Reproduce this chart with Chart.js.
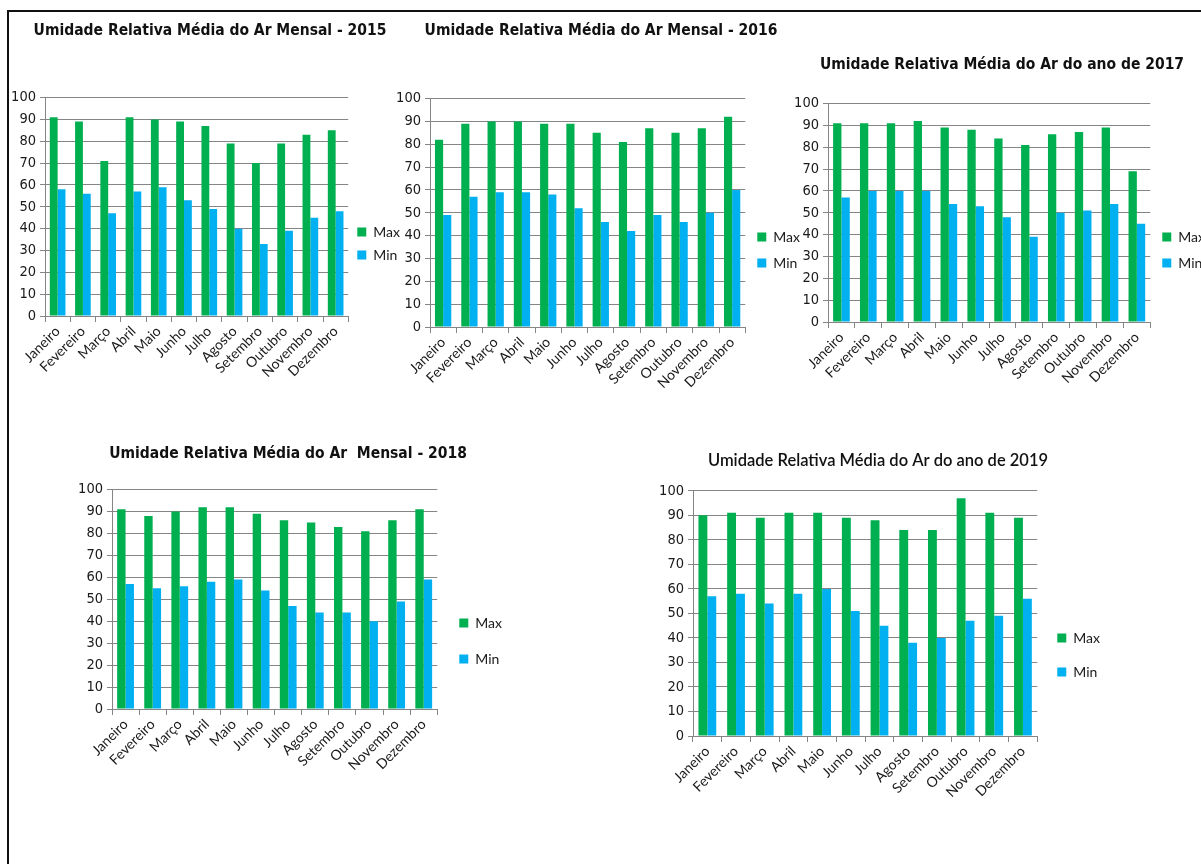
<!DOCTYPE html>
<html lang="pt-BR">
<head>
<meta charset="utf-8">
<title>Umidade Relativa Média do Ar 2015-2019</title>
<script src="https://cdn.jsdelivr.net/npm/chart.js@4.4.1/dist/chart.umd.min.js"></script>
<style>
  html, body { margin: 0; padding: 0; background: #fff; width: 1201px; height: 864px; overflow: hidden; position: relative; }
  #moldura { position: absolute; left: 7px; top: 10px; right: -10px; bottom: -10px; border-left: 2px solid #111; border-top: 2px solid #111; }
  canvas { position: absolute; }
</style>
</head>
<body>
<div id="moldura"></div>
<canvas id="g2015"></canvas>
<canvas id="g2016"></canvas>
<canvas id="g2017"></canvas>
<canvas id="g2018"></canvas>
<canvas id="g2019"></canvas>
<script>
// meses e médias mensais de umidade (%)
const meses = ['Janeiro', 'Fevereiro', 'Março', 'Abril', 'Maio', 'Junho',
               'Julho', 'Agosto', 'Setembro', 'Outubro', 'Novembro', 'Dezembro'];

const max2015 = [91, 89, 71, 91, 90, 89, 87, 79, 70, 79, 83, 85];
const min2015 = [58, 56, 47, 57, 59, 53, 49, 40, 33, 39, 45, 48];

const max2016 = [82, 89, 90, 90, 89, 89, 85, 81, 87, 85, 87, 92];
const min2016 = [49, 57, 59, 59, 58, 52, 46, 42, 49, 46, 50, 60];

const max2017 = [91, 91, 91, 92, 89, 88, 84, 81, 86, 87, 89, 69];
const min2017 = [57, 60, 60, 60, 54, 53, 48, 39, 50, 51, 54, 45];

const max2018 = [91, 88, 90, 92, 92, 89, 86, 85, 83, 81, 86, 91];
const min2018 = [57, 55, 56, 58, 59, 54, 47, 44, 44, 40, 49, 59];

const max2019 = [90, 91, 89, 91, 91, 89, 88, 84, 84, 97, 91, 89];
const min2019 = [57, 58, 54, 58, 60, 51, 45, 38, 40, 47, 49, 56];

const escalaMax = 100;
const escalaPasso = 10;

const corMax = '#00b050';
const corMin = '#00b0f0';
const corGrade = '#858585';
const corTexto = '#1a1a1a';
const fonteNarrow = '"Liberation Sans Narrow", "DejaVu Sans Condensed", Arial, sans-serif';
const fonteTexto = 'Lato, "Open Sans", sans-serif';

function graficoUmidade(id, titulo, maxs, mins, c) {
    const canvas = document.getElementById(id);
    canvas.width = c.w;
    canvas.height = c.h;
    canvas.style.left = c.x + 'px';
    canvas.style.top = c.y + 'px';

    new Chart(canvas, {
        type: 'bar',
        data: {
            labels: meses,
            datasets: [
                { label: 'Max', data: maxs, backgroundColor: corMax, categoryPercentage: 0.62, barPercentage: 1 },
                { label: 'Min', data: mins, backgroundColor: corMin, categoryPercentage: 0.62, barPercentage: 1 }
            ]
        },
        options: {
            responsive: false,
            animation: false,
            layout: { padding: 0 },
            plugins: {
                title: {
                    display: true,
                    text: titulo,
                    color: '#111',
                    font: c.tituloFonte || { family: fonteNarrow, size: 15.5, weight: 'bold' },
                    padding: { top: c.tt, bottom: c.tb }
                },
                legend: {
                    position: 'right',
                    labels: {
                        boxWidth: 9,
                        boxHeight: 9,
                        padding: c.lp,
                        color: corTexto,
                        font: { family: fonteTexto, size: 14 }
                    }
                },
                tooltip: { enabled: false }
            },
            scales: {
                x: {
                    grid: { drawOnChartArea: false, color: corGrade, tickLength: 6 },
                    border: { color: corGrade },
                    ticks: {
                        autoSkip: false,
                        minRotation: 45,
                        maxRotation: 45,
                        padding: 1,
                        color: corTexto,
                        font: { family: fonteTexto, size: 14 }
                    },
                    afterFit: s => { s.height = c.xh; }
                },
                y: {
                    min: 0,
                    max: escalaMax,
                    ticks: { stepSize: escalaPasso, padding: 4, color: corTexto, font: { family: fonteNarrow, size: 14.5 } },
                    grid: { color: corGrade, tickLength: 5 },
                    border: { color: corGrade },
                    afterFit: s => { s.width = c.yw; }
                }
            }
        }
    });
}

graficoUmidade('g2015', 'Umidade Relativa Média do Ar Mensal - 2015', max2015, min2015,
    { x: 10, y: 0, w: 400, h: 487, yw: 35, xh: 171, tt: 22, tb: 57, lp: 9 });
graficoUmidade('g2016', 'Umidade Relativa Média do Ar Mensal - 2016', max2016, min2016,
    { x: 392, y: 0, w: 418, h: 500, yw: 38, xh: 173, tt: 22, tb: 58, lp: 12 });
graficoUmidade('g2017', 'Umidade Relativa Média do Ar do ano de 2017', max2017, min2017,
    { x: 789, y: 0, w: 426, h: 500, yw: 39, xh: 178, tt: 56, tb: 29, lp: 12 });
graficoUmidade('g2018', 'Umidade Relativa Média do Ar  Mensal - 2018', max2018, min2018,
    { x: 64, y: 400, w: 448, h: 482, yw: 48, xh: 173, tt: 45, tb: 26, lp: 22 });
graficoUmidade('g2019', 'Umidade Relativa Média do Ar do ano de 2019', max2019, min2019,
    { x: 646, y: 400, w: 464, h: 510, yw: 47, xh: 174, tt: 51, tb: 20, lp: 20,
      tituloFonte: { family: fonteTexto, size: 16.5, weight: '600' } });
</script>
</body>
</html>
